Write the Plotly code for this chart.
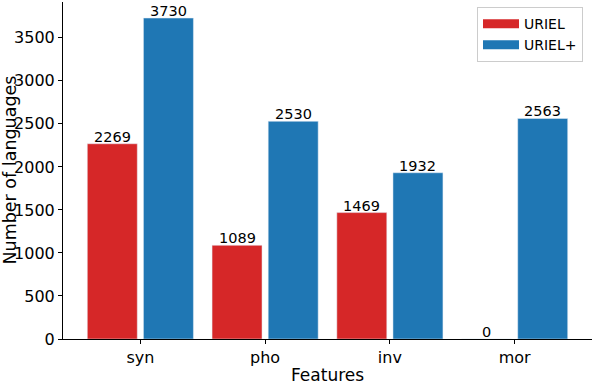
import plotly.graph_objects as go

# Feature categories and language counts
features = ['syn', 'pho', 'inv', 'mor']
uriel = [2269, 1089, 1469, 0]
uriel_plus = [3730, 2530, 1932, 2563]

red = '#d62728'
blue = '#1f77b4'
font = 'DejaVu Sans'

fig = go.Figure()

fig.add_trace(go.Bar(x=features, y=uriel, name='URIEL', marker_color=red,
                     showlegend=False))
fig.add_trace(go.Bar(x=features, y=uriel_plus, name='URIEL+', marker_color=blue,
                     showlegend=False))

# legend entries drawn as thick lines (matplotlib-like patches)
fig.add_trace(go.Scatter(x=[None], y=[None], mode='lines', name='URIEL',
                         line=dict(color=red, width=9)))
fig.add_trace(go.Scatter(x=[None], y=[None], mode='lines', name='URIEL+',
                         line=dict(color=blue, width=9)))

# value labels sitting right on top of each bar
labels = []
for vals, shift in [(uriel, -28), (uriel_plus, 28)]:
    for f, v in zip(features, vals):
        labels.append(dict(x=f, y=v, text=str(v), xshift=shift, yshift=-3,
                           yanchor='bottom', showarrow=False,
                           font=dict(size=14.5)))

fig.update_layout(
    width=592, height=386,
    margin=dict(l=63, r=0, t=2, b=47, autoexpand=False),
    plot_bgcolor='white', paper_bgcolor='white',
    font=dict(family=font, color='black'),
    barmode='group', bargap=0.1, bargroupgap=0.11,
    legend=dict(x=0.983, y=0.985, xanchor='right', yanchor='top',
                bordercolor='#cccccc', borderwidth=1, bgcolor='white',
                font=dict(size=14), tracegroupgap=2, itemwidth=36),
    annotations=labels + [
        dict(text='Features', xref='paper', yref='paper', x=0.5, y=0,
             yshift=-36, yanchor='middle', showarrow=False, borderpad=0,
             font=dict(size=17)),
        dict(text='Number of languages', xref='paper', yref='paper', x=0,
             y=0.5, xshift=-54, textangle=-90, xanchor='center',
             showarrow=False, borderpad=0, font=dict(size=17.5)),
    ],
)
fig.update_xaxes(
    range=[-0.62, 3.62], showline=True, linecolor='black', linewidth=1,
    automargin=False,
    ticks='outside', ticklen=4, tickcolor='black', tickfont=dict(size=16),
)
fig.update_yaxes(
    range=[0, 3916.5], showline=True, linecolor='black', linewidth=1,
    showgrid=False, zeroline=False, automargin=False,
    ticks='outside', ticklen=4, tickcolor='black', tickfont=dict(size=16),
    tickvals=[0, 500, 1000, 1500, 2000, 2500, 3000, 3500],
)

# drop the page's default body margin so the figure sits at the window corner
fig.write_html('out.html', config={'displayModeBar': False},
               post_script="document.body.style.margin='0';")
